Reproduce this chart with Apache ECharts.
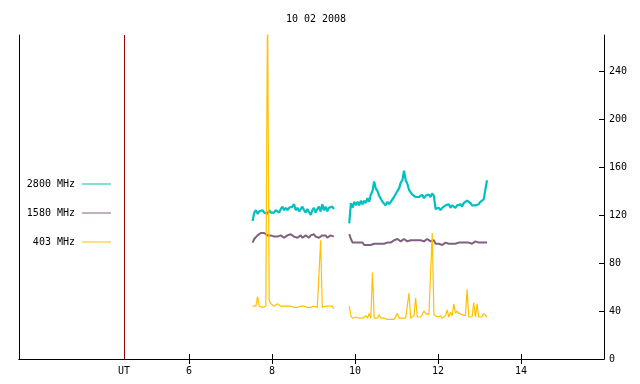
<!DOCTYPE html>
<html><head><meta charset="utf-8">
<script src="https://cdn.jsdelivr.net/npm/echarts@6/dist/echarts.min.js"></script>
<style>html,body{margin:0;padding:0;background:#fff}#c{width:640px;height:384px}</style>
</head><body><div id="c"></div>
<script>
const chartTitle = '10 02 2008';
const seriesNames = ['2800 MHz', '1580 MHz', '403 MHz'];
const xTickValues = [6, 8, 10, 12, 14];
const yTickValues = [0, 40, 80, 120, 160, 200, 240];
const UT_HOUR = 4.43;
const seg1Start = 7.53, seg2Start = 9.86, sampleStep = 0.04;

const f2800a = [115,122,124,121,123,122,124,122,123,121,124,122,123,122,124,123,122,125,127,124,126,124,126,125,127,129,124,126,123,125,127,124,122,125,126,120,124,126,122,125,127,123,129,124,127,123,126,125,127,125];
const f2800b = [113,130,126,131,128,131,128,132,129,132,130,134,131,137,140,148,142,140,136,135,131,132,128,131,129,131,131,135,136,140,142,147,149,157,149,146,141,141,137,138,135,136,135,134,137,134,136,135,137,135,138,136,125,124,126,124,126,125,128,127,129,126,128,127,126,128,127,129,127,130,129,132,131,130,128,129,128,129,129,131,130,133,134,149];
const f1580a = [97,100,101,103,104,105,104,105,104,103,104,103,102,102,101,102,101,103,102,101,102,103,102,104,103,102,103,101,102,103,101,102,103,102,101,103,102,104,102,103,101,102,103,102,103,101,102,103,102,102];
const f1580b = [104,100,97,96,97,96,97,96,97,95,96,95,96,95,94,96,95,96,95,96,95,96,96,97,96,97,98,99,99,100,99,98,99,100,99,98,99,99,98,99,100,99,98,99,99,98,99,100,99,98,99,99,96,95,96,96,95,96,97,96,96,97,96,97,96,97,97,96,97,98,97,96,97,97,96,97,98,97,97,96,97,98,97,97];
const f403a = [44,43,44,52,44,43,43,44,44,300,49,46,45,44,45,46,45,44,45,44,43,44,43,44,43,43,44,43,44,44,43,44,43,43,44,43,44,44,43,43,43,99,43,44,44,43,44,43,44,42];
const f403b = [44,36,34,34,35,34,34,34,34,35,36,34,38,34,72,34,35,34,37,34,34,34,33,33,33,33,33,33,34,38,34,34,34,34,34,35,55,34,35,36,51,35,34,35,37,40,38,39,37,71,105,37,36,35,35,36,34,35,36,41,35,39,36,46,38,40,38,39,37,38,36,58,35,34,35,47,35,46,35,34,35,38,37,35];

const colors = ['#00c0c0', '#806080', '#ffc000'];

function build(a, b) {
  const out = [];
  a.forEach((v, i) => out.push([seg1Start + i * sampleStep, v]));
  const end1 = seg1Start + (a.length - 1) * sampleStep;
  out.push([(end1 + seg2Start) / 2, null]);
  b.forEach((v, i) => out.push([seg2Start + i * sampleStep, v]));
  return out;
}

const FONT = 'DejaVu Sans Mono';
const chart = echarts.init(document.getElementById('c'), null, {renderer: 'canvas'});
const lineAxis = {show: true, lineStyle: {color: '#000', width: 1}};
chart.setOption({
  animation: false,
  backgroundColor: '#fff',
  title: {text: chartTitle, left: 311, top: 9, textAlign: 'center',
    textStyle: {fontFamily: FONT, fontSize: 10, fontWeight: 'normal', color: '#000'}},
  legend: {
    orient: 'vertical', align: 'right', right: 529, top: 178, padding: 0,
    itemWidth: 29, itemHeight: 1, itemGap: 17, icon: 'rect',
    textStyle: {fontFamily: FONT, fontSize: 10, color: '#000', lineHeight: 12, padding: [0, 2, 0, 0]},
    data: seriesNames
  },
  grid: {left: 19, right: 36, top: 35, bottom: 25, containLabel: false},
  xAxis: [
    {type: 'value', position: 'bottom', min: 1.9, max: 16,
      axisLine: lineAxis, splitLine: {show: false},
      axisTick: {show: true, inside: true, length: 5, customValues: xTickValues, lineStyle: {color: '#000'}},
      axisLabel: {show: true, margin: 7, customValues: [UT_HOUR].concat(xTickValues),
        formatter: v => (Math.abs(v - UT_HOUR) < 0.01 ? 'UT' : String(v)),
        fontFamily: FONT, fontSize: 10, color: '#000'}},
    {type: 'value', position: 'top', min: 1.9, max: 16,
      axisLine: lineAxis, splitLine: {show: false},
      axisTick: {show: true, inside: true, length: 5, customValues: xTickValues, lineStyle: {color: '#000'}},
      axisLabel: {show: false}}
  ],
  yAxis: [
    {type: 'value', position: 'right', min: 0, max: 270,
      axisLine: lineAxis, splitLine: {show: false},
      axisTick: {show: true, inside: true, length: 5, customValues: yTickValues.slice(1), lineStyle: {color: '#000'}},
      axisLabel: {show: true, margin: 5, customValues: yTickValues, fontFamily: FONT, fontSize: 10, color: '#000'}},
    {type: 'value', position: 'left', min: 0, max: 270,
      axisLine: lineAxis, splitLine: {show: false}, axisTick: {show: false}, axisLabel: {show: false}}
  ],
  series: [
    {name: seriesNames[0], type: 'line', data: build(f2800a, f2800b), showSymbol: false, connectNulls: false,
      color: colors[0], lineStyle: {width: 2.2, color: colors[0]}, clip: true,
      markLine: {silent: true, symbol: 'none', label: {show: false},
        lineStyle: {color: '#990000', width: 1, type: 'solid'}, data: [{xAxis: UT_HOUR}]}},
    {name: seriesNames[1], type: 'line', data: build(f1580a, f1580b), showSymbol: false, connectNulls: false,
      color: colors[1], lineStyle: {width: 2, color: colors[1]}, clip: true},
    {name: seriesNames[2], type: 'line', data: build(f403a, f403b), showSymbol: false, connectNulls: false,
      color: colors[2], lineStyle: {width: 1.2, color: colors[2]}, clip: true}
  ]
});
</script></body></html>
